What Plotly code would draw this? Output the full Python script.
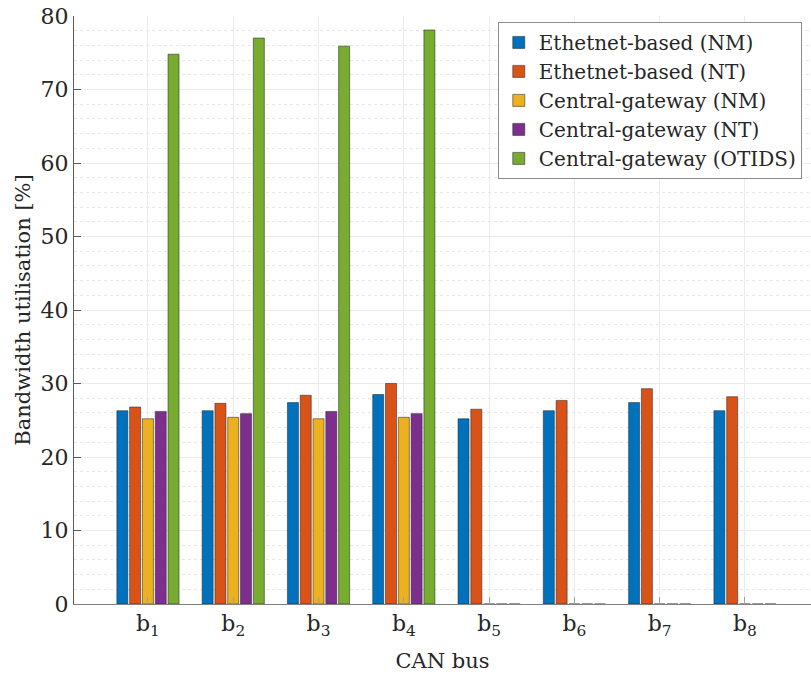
import plotly.graph_objects as go

# CAN bus bandwidth utilisation per architecture
buses = [1, 2, 3, 4, 5, 6, 7, 8]
bus_labels = ["b<sub>%d</sub>" % i for i in buses]

eth_nm = [26.3, 26.3, 27.4, 28.5, 25.2, 26.3, 27.4, 26.3]
eth_nt = [26.8, 27.3, 28.4, 30.0, 26.5, 27.7, 29.3, 28.2]
cg_nm = [25.2, 25.4, 25.2, 25.4, 0, 0, 0, 0]
cg_nt = [26.2, 25.9, 26.2, 25.9, 0, 0, 0, 0]
cg_otids = [74.8, 77.0, 75.9, 78.1, 0, 0, 0, 0]

series = [
    ("Ethetnet-based (NM)", eth_nm, "#0072BD"),
    ("Ethetnet-based (NT)", eth_nt, "#D95319"),
    ("Central-gateway (NM)", cg_nm, "#EDB120"),
    ("Central-gateway (NT)", cg_nt, "#7E2F8E"),
    ("Central-gateway (OTIDS)", cg_otids, "#77AC30"),
]

y_ticks = [0, 10, 20, 30, 40, 50, 60, 70, 80]

FONT = "DejaVu Serif"
INK = "#262626"

fig = go.Figure()
for name, vals, color in series:
    fig.add_trace(go.Bar(
        x=buses, y=vals, name=name,
        marker=dict(color=color, line=dict(color="rgba(40,40,40,0.55)", width=1)),
    ))

fig.update_layout(
    width=811, height=678,
    margin=dict(l=74, r=0, t=16, b=74, autoexpand=False),
    paper_bgcolor="white", plot_bgcolor="white",
    barmode="group", bargap=0.25, bargroupgap=0.14,
    font=dict(family=FONT, color=INK),
    legend=dict(
        x=0.575, y=0.99, xanchor="left", yanchor="top",
        bgcolor="white", bordercolor="#8c8c8c", borderwidth=1,
        font=dict(family=FONT, size=20, color=INK),
        tracegroupgap=0, itemwidth=30,
    ),
    showlegend=True,
)

fig.update_xaxes(
    range=[0.133, 8.774],
    automargin=False,
    tickvals=buses, ticktext=bus_labels,
    tickfont=dict(family=FONT, size=22, color=INK),
    ticks="inside", ticklen=7, tickcolor="#a0a0a0",
    showgrid=True, gridcolor="#ebebeb", gridwidth=1,
    showline=True, linecolor="#808080", linewidth=1,
    zeroline=False,
    title=dict(text="CAN bus", font=dict(family=FONT, size=21, color=INK), standoff=14),
)

fig.update_yaxes(
    range=[0, 80],
    automargin=False,
    tickvals=y_ticks,
    tickfont=dict(family=FONT, size=22, color=INK),
    ticks="inside", ticklen=7, tickcolor="#5a5a5a",
    showgrid=True, gridcolor="#ebebeb", gridwidth=1,
    minor=dict(dtick=2, showgrid=True, gridcolor="#e6e6e6", griddash="dot", ticks=""),
    showline=True, linecolor="#5a5a5a", linewidth=1,
    zeroline=False,
    title=dict(text="Bandwidth utilisation [%]", font=dict(family=FONT, size=21, color=INK), standoff=4),
)

fig.write_html("out.html")
